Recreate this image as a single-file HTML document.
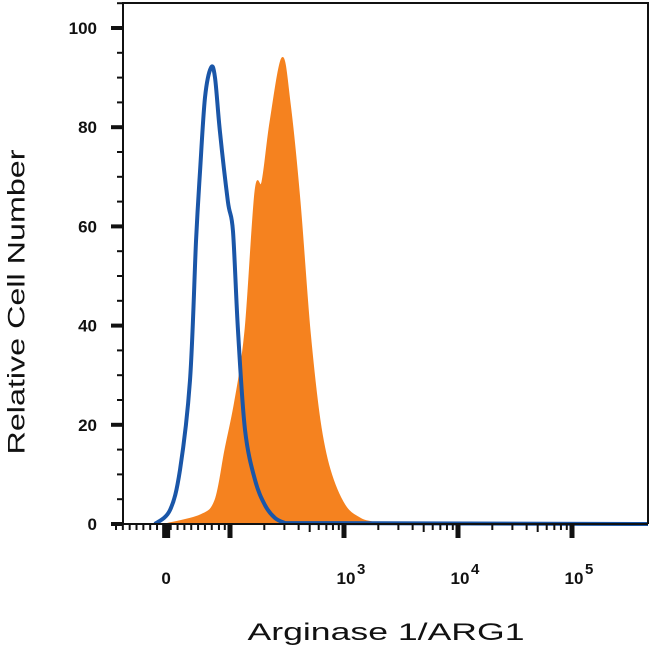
<!DOCTYPE html>
<html><head><meta charset="utf-8"><style>
body{margin:0;background:#fff;}
svg{display:block;font-family:"Liberation Sans",sans-serif;}
</style></head><body>
<svg id="chart" width="650" height="650" viewBox="0 0 650 650">
<g id="marks"></g>
<g id="axes"></g>
<text x="18" y="302" transform="rotate(-90 18 302)" text-anchor="middle" dominant-baseline="middle" font-size="24" textLength="305" lengthAdjust="spacingAndGlyphs" fill="#111">Relative Cell Number</text>
<text x="386" y="640" text-anchor="middle" font-size="24" textLength="277" lengthAdjust="spacingAndGlyphs" fill="#111">Arginase 1/ARG1</text>
</svg>
<script>
const isoX=[1.342,1.474,1.561,1.649,1.702,1.737,1.781,1.833,1.868,1.912,1.982,2.026,2.070,2.132,2.219,2.307,2.395,2.482,5.667];
const isoY=[0,2.8,10.9,29,57,71,86,92,90,79,65,59,39,19,8.9,3.8,1.2,0.2,0];
const argX=[1.430,1.737,1.868,1.956,2.044,2.132,2.219,2.281,2.351,2.456,2.526,2.614,2.702,2.789,2.877,3.009,3.140,3.246,3.316];
const argY=[0,1.8,4.8,15,25,39,67,69,81,94,85,65,39,21,11,3.8,1.2,0.4,0];
const yTicks=[0,20,40,60,80,100];
const xMajor=[1.44,2,3,4,5];
const xLabels=["0","","10","10","10"];
const xExp=["","","3","4","5"];
const NS='http://www.w3.org/2000/svg';
const L=123,R=648,T=3,B=524;
const sx=v=>344+(v-3)*114;
const sy=c=>B-c*4.96;
function mk(tag,a,p){const e=document.createElementNS(NS,tag);for(const k in a)e.setAttribute(k,a[k]);p.appendChild(e);return e;}
function smooth(pts){let d='M'+pts[0][0].toFixed(1)+','+pts[0][1].toFixed(1);
for(let i=0;i<pts.length-1;i++){const p0=pts[Math.max(0,i-1)],p1=pts[i],p2=pts[i+1],p3=pts[Math.min(pts.length-1,i+2)];
const c1=[p1[0]+(p2[0]-p0[0])/6,p1[1]+(p2[1]-p0[1])/6],c2=[p2[0]-(p3[0]-p1[0])/6,p2[1]-(p3[1]-p1[1])/6];
d+=` C${c1[0].toFixed(1)},${Math.min(B,c1[1]).toFixed(1)} ${c2[0].toFixed(1)},${Math.min(B,c2[1]).toFixed(1)} ${p2[0].toFixed(1)},${p2[1].toFixed(1)}`;}return d;}
const marks=document.getElementById('marks'),axes=document.getElementById('axes');
const aPts=argX.map((v,i)=>[sx(v),sy(argY[i])]);
const fa=mk('path',{d:smooth(aPts)+' Z',fill:'#f5821f',stroke:'#f5821f','stroke-width':1},marks);


const iPts=isoX.map((v,i)=>[sx(v),sy(isoY[i])]);
const last=iPts.pop();
const bl=mk('path',{d:smooth(iPts)+` L${last[0].toFixed(1)},${last[1].toFixed(1)}`,fill:'none',stroke:'#1a56a8','stroke-width':4,'stroke-linejoin':'round'},marks);


const fr=mk('path',{d:`M${L},${B} L${L},${T} L${R},${T} L${R},${B}`,fill:'none',stroke:'#111','stroke-width':2},axes);


const xl=mk('line',{x1:L,y1:B,x2:R,y2:B,stroke:'#111','stroke-width':2},axes);


for(let c=0;c<=105;c+=5){const maj=c%20===0;mk('line',{x1:L-(maj?12:6),x2:L,y1:sy(c),y2:sy(c),stroke:'#111','stroke-width':maj?4:2},axes);}
yTicks.forEach(c=>{const t=mk('text',{x:L-26,y:sy(c)+6,'text-anchor':'end','font-size':17,'font-weight':'bold',fill:'#111'},axes);t.textContent=c;

});
for(let dec=2;dec<=5;dec++){for(let m=2;m<=9;m++){const v=dec+Math.log10(m)-1;if(v>1.9){mk('line',{x1:sx(v),x2:sx(v),y1:B,y2:B+(m===5?8:6),stroke:'#111','stroke-width':2},axes);}}}
for(let v=1.0;v<1.9;v+=0.06){mk('line',{x1:sx(v),x2:sx(v),y1:B,y2:B+6,stroke:'#111','stroke-width':2},axes);}
xMajor.forEach(v=>{mk('line',{x1:sx(v),x2:sx(v),y1:B,y2:B+14,stroke:'#111','stroke-width':v===1.44?8:5},axes);});
xMajor.forEach((v,i)=>{if(!xLabels[i])return;const t=mk('text',{x:sx(v)+(xExp[i]?2:0),y:584,'text-anchor':'middle','font-size':17,'font-weight':'bold',fill:'#111'},axes);t.textContent=xLabels[i];


if(xExp[i]){const e=mk('text',{x:sx(v)+13,y:574,'font-size':15,'font-weight':'bold',fill:'#111'},axes);e.textContent=xExp[i];

}});
</script>
</body></html>
